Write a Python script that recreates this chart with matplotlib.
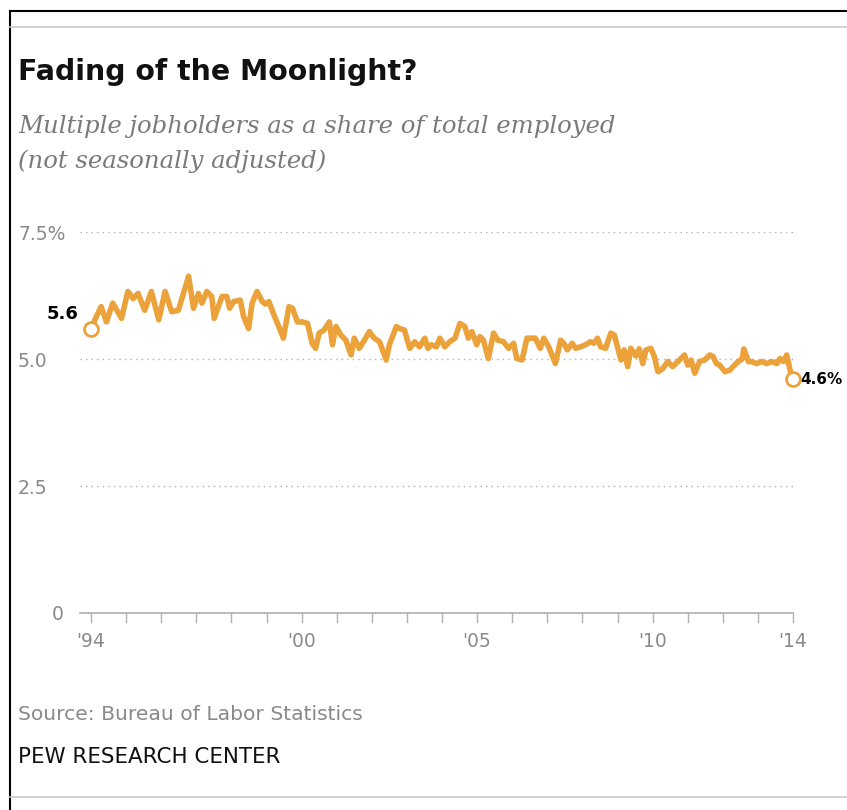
import numpy as np
import matplotlib
matplotlib.use("Agg")
import matplotlib.pyplot as plt
from matplotlib.lines import Line2D

# multiple jobholders as % of total employed (decimal year, value)
years = [1994.00, 1994.15, 1994.29, 1994.44, 1994.62, 1994.87, 1995.05, 1995.20,
         1995.34, 1995.53, 1995.72, 1995.93, 1996.11, 1996.30, 1996.49, 1996.78,
         1996.92, 1997.06, 1997.16, 1997.30, 1997.44, 1997.51, 1997.73, 1997.87,
         1997.95, 1998.06, 1998.25, 1998.35, 1998.49, 1998.59, 1998.73, 1998.88,
         1998.97, 1999.07, 1999.21, 1999.35, 1999.48, 1999.64, 1999.74, 1999.88,
         2000.02, 2000.17, 2000.30, 2000.40, 2000.50, 2000.64, 2000.79, 2000.88,
         2000.98, 2001.12, 2001.26, 2001.41, 2001.50, 2001.64, 2001.79, 2001.93,
         2002.07, 2002.22, 2002.41, 2002.50, 2002.70, 2002.79, 2002.93, 2003.08,
         2003.22, 2003.36, 2003.51, 2003.60, 2003.70, 2003.84, 2003.94, 2004.08,
         2004.22, 2004.37, 2004.51, 2004.65, 2004.75, 2004.85, 2004.99, 2005.08,
         2005.18, 2005.32, 2005.47, 2005.59, 2005.75, 2005.90, 2006.04, 2006.13,
         2006.28, 2006.42, 2006.54, 2006.66, 2006.80, 2006.90, 2007.04, 2007.23,
         2007.38, 2007.47, 2007.57, 2007.71, 2007.81, 2007.95, 2008.09, 2008.23,
         2008.33, 2008.43, 2008.52, 2008.66, 2008.81, 2008.91, 2009.00, 2009.10,
         2009.19, 2009.29, 2009.38, 2009.52, 2009.62, 2009.72, 2009.81, 2009.95,
         2010.05, 2010.15, 2010.29, 2010.43, 2010.57, 2010.72, 2010.91, 2011.00,
         2011.10, 2011.20, 2011.34, 2011.48, 2011.63, 2011.72, 2011.82, 2011.91,
         2012.06, 2012.20, 2012.29, 2012.44, 2012.55, 2012.60, 2012.73, 2012.82,
         2012.96, 2013.11, 2013.25, 2013.39, 2013.54, 2013.63, 2013.73, 2013.82,
         2013.96, 2014.00]
share = [5.60, 5.83, 6.03, 5.73, 6.10, 5.80, 6.33, 6.19,
         6.29, 5.96, 6.33, 5.77, 6.33, 5.93, 5.96, 6.63,
         6.00, 6.29, 6.10, 6.33, 6.23, 5.80, 6.23, 6.23,
         6.00, 6.13, 6.16, 5.83, 5.60, 6.10, 6.33, 6.13,
         6.08, 6.13, 5.87, 5.64, 5.41, 6.03, 6.00, 5.73,
         5.73, 5.70, 5.31, 5.21, 5.51, 5.57, 5.73, 5.28,
         5.64, 5.47, 5.37, 5.08, 5.41, 5.21, 5.37, 5.54,
         5.41, 5.34, 4.98, 5.28, 5.64, 5.60, 5.57, 5.21,
         5.34, 5.24, 5.41, 5.21, 5.28, 5.24, 5.41, 5.24,
         5.34, 5.41, 5.70, 5.64, 5.41, 5.54, 5.28, 5.44,
         5.37, 5.01, 5.51, 5.37, 5.34, 5.21, 5.31, 5.01,
         4.98, 5.41, 5.41, 5.41, 5.21, 5.41, 5.24, 4.91,
         5.37, 5.31, 5.18, 5.31, 5.21, 5.24, 5.28, 5.34,
         5.31, 5.41, 5.24, 5.21, 5.51, 5.47, 5.24, 4.98,
         5.18, 4.85, 5.21, 5.06, 5.20, 4.91, 5.18, 5.21,
         5.05, 4.75, 4.81, 4.95, 4.85, 4.95, 5.08, 4.88,
         4.98, 4.72, 4.95, 4.98, 5.08, 5.05, 4.91, 4.88,
         4.75, 4.78, 4.85, 4.95, 5.00, 5.20, 4.95, 4.95,
         4.91, 4.95, 4.91, 4.95, 4.91, 5.01, 4.95, 5.08,
         4.65, 4.60]

grid_vals = [2.5, 5.0, 7.5]
ytick_labels = ["0", "2.5", "5.0", "7.5%"]
ytick_vals = [0, 2.5, 5.0, 7.5]
xtick_years = list(range(1994, 2015))
xlabel_years = [1994, 2000, 2005, 2010, 2014]
xlabel_text = ["'94", "'00", "'05", "'10", "'14"]

ORANGE = "#EBA23A"
GRAY = "#8a8a8a"
SANS = "DejaVu Sans"

W, H = 847, 810
fig = plt.figure(figsize=(W / 100, H / 100), dpi=100)
fig.patch.set_facecolor("white")


def px(x, y):
    # pixel coords (from top-left) -> figure fraction
    return x / W, 1 - y / H


# frame lines
fig.add_artist(Line2D([10 / W, 10 / W], [0, 1 - 11 / H], color="black", lw=1.5))
fig.add_artist(Line2D([10 / W, 1], [1 - 11 / H, 1 - 11 / H], color="black", lw=1.5))
fig.add_artist(Line2D([10 / W, 1], [1 - 27 / H, 1 - 27 / H], color="#c8c8c8", lw=1.2))
fig.add_artist(Line2D([10 / W, 1], [1 - 797 / H, 1 - 797 / H], color="#c8c8c8", lw=1.2))

# headings
fig.text(*px(18, 72), "Fading of the Moonlight?", fontsize=20.4, fontweight="bold",
         family=SANS, va="center", ha="left", color="#111111")
fig.text(*px(18, 127), "Multiple jobholders as a share of total employed",
         fontsize=17.6, style="italic", family="DejaVu Serif", color="#7a7a7a",
         va="center", ha="left")
fig.text(*px(18, 161), "(not seasonally adjusted)", fontsize=17.6, style="italic",
         family="DejaVu Serif", color="#7a7a7a", va="center", ha="left")

# axes placed in pixel terms: x 80..793, y 613..232
ax = fig.add_axes([80 / W, 1 - 613 / H, (793 - 80) / W, (613 - 232) / H])
ax.set_xlim(1994 - 11 / 35.1, 2014)
ax.set_ylim(0, 7.5)
ax.axis("off")

for g in grid_vals:
    ax.axhline(g, color="#b0b0b0", lw=1, ls=(0, (1, 3)), zorder=1)
ax.axhline(0, color="#b0b0b0", lw=1.2, zorder=1, clip_on=False)
for yr in xtick_years:
    ax.plot([yr, yr], [0, -0.18], color="#b0b0b0", lw=1, clip_on=False)

ax.plot(years, share, color=ORANGE, lw=4, solid_joinstyle="round", zorder=3)
ax.plot([years[0], years[-1]], [share[0], share[-1]], ls="none", marker="o", ms=10,
        mfc="white", mec=ORANGE, mew=2, zorder=4, clip_on=False)

ax.text(years[0] - 0.35, share[0] + 0.28, f"{share[0]:.1f}", fontsize=13,
        fontweight="bold", family=SANS, ha="right", va="center")
ax.text(years[-1] + 0.22, share[-1], f"{share[-1]:.1f}%", fontsize=11,
        fontweight="bold", family=SANS, ha="left", va="center", clip_on=False)

# y labels
for v, lab in zip(ytick_vals, ytick_labels):
    xx = 52 if v == 0 else 18
    yy = 613 - v * 50.8
    fig.text(*px(xx, yy + 2), lab, fontsize=13.5, family=SANS, color=GRAY,
             ha="left", va="center")

for yr, lab in zip(xlabel_years, xlabel_text):
    ax.text(yr, -0.56, lab, fontsize=13.5, family=SANS, color=GRAY,
            ha="center", va="center")

fig.text(*px(18, 714), "Source: Bureau of Labor Statistics", fontsize=14.6,
         family=SANS, color=GRAY, ha="left", va="center")
fig.text(*px(18, 757), "PEW RESEARCH CENTER", fontsize=15.4, family=SANS,
         color="#111111", ha="left", va="center")

fig.savefig("out.png", dpi=100, facecolor="white")
